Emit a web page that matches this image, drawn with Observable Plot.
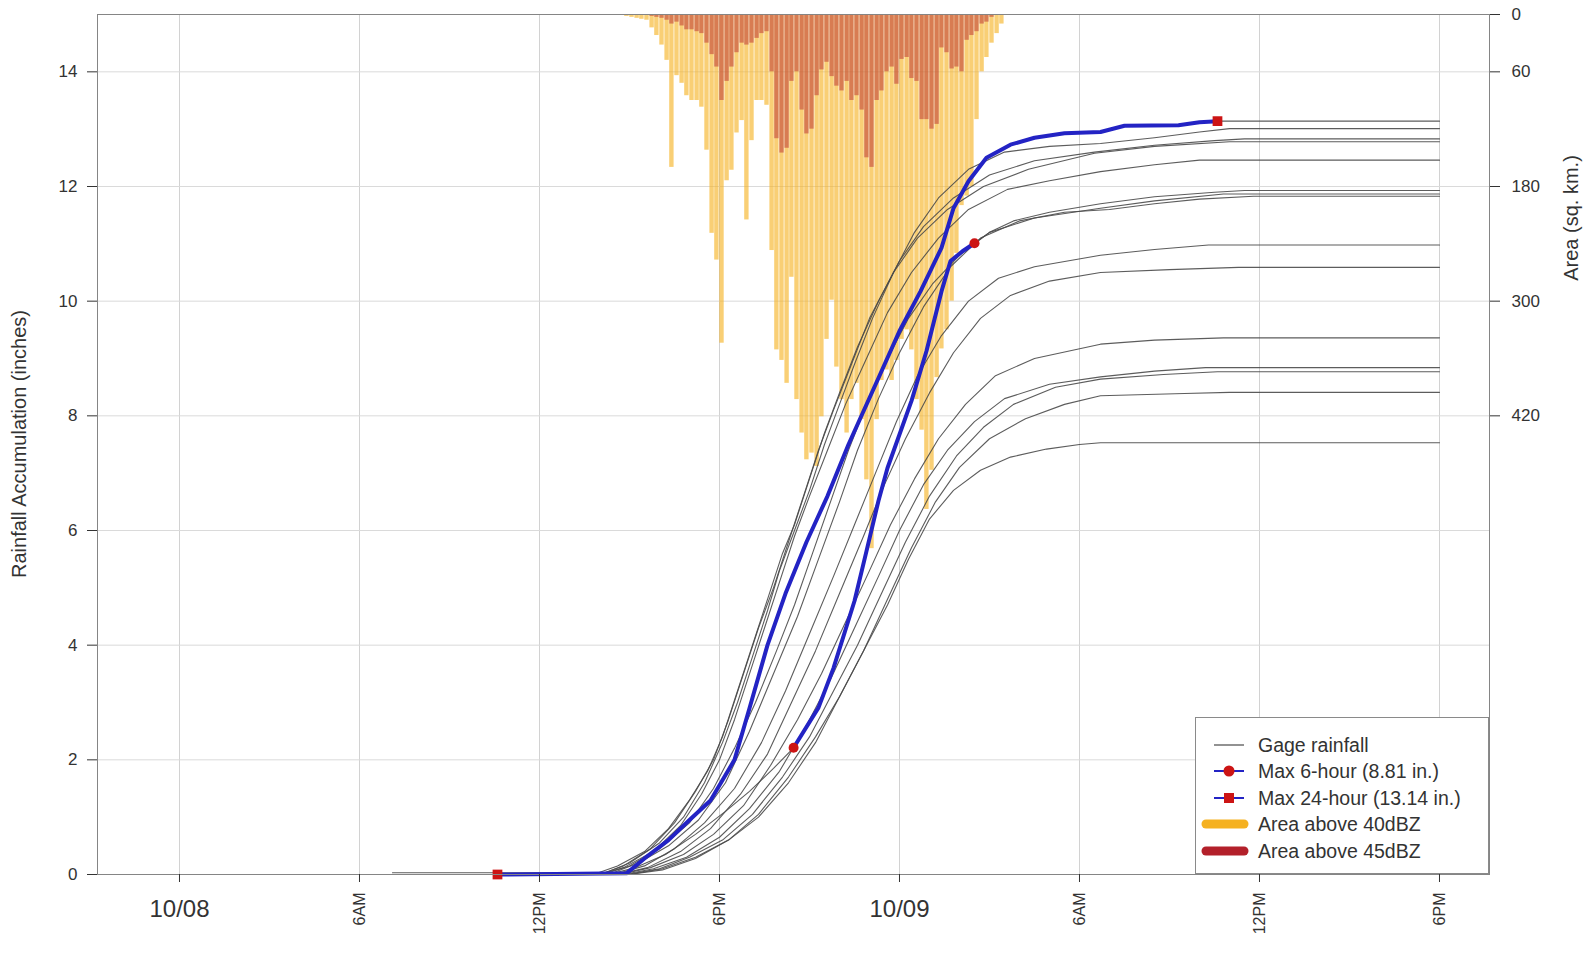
<!DOCTYPE html>
<html>
<head>
<meta charset="utf-8">
<script src="https://cdn.jsdelivr.net/npm/d3@7"></script>
<script src="https://cdn.jsdelivr.net/npm/@observablehq/plot@0.6"></script>
<style>
  html, body { margin: 0; padding: 0; background: #fff; }
  body { font-family: "Liberation Sans", Arial, sans-serif; color: #333; }
  #wrap { position: relative; width: 1594px; height: 957px; overflow: hidden; }
  .ttl { position: absolute; font-size: 20px; color: #333; white-space: nowrap; transform: translate(-50%, -50%) rotate(-90deg); }
  #legend { position: absolute; left: 1195px; top: 717px; width: 294px; height: 157px; box-sizing: border-box; border: 1px solid #8a8a8a; background: #fff; }
  .row { position: absolute; left: 0; height: 26px; width: 290px; }
  .row svg { position: absolute; left: 4px; top: 0; }
  .row span { position: absolute; left: 62px; top: 0; line-height: 26px; font-size: 19.5px; color: #333; white-space: nowrap; }
</style>
</head>
<body>
<div id="wrap">
  <div id="chart"></div>
  <div class="ttl" id="ytitle" style="left:19px; top:444px;">Rainfall Accumulation (inches)</div>
  <div class="ttl" id="atitle" style="left:1571px; top:218px;">Area (sq. km.)</div>
  <div id="legend"></div>
</div>
<script>
// ---------- axis ticks & labels ----------
const xTickHours  = [0, 6, 12, 18, 24, 30, 36, 42];
const xTickLabels = ["10/08", "6AM", "12PM", "6PM", "10/09", "6AM", "12PM", "6PM"];
const yTicks      = [0, 2, 4, 6, 8, 10, 12, 14];
const areaTicks   = [0, 60, 180, 300, 420];

// ---------- radar area bars (hours since 10/08 00:00, sq. km.) ----------
const barHours = 1 / 6;
const barStart = [14.83, 15.0, 15.17, 15.33,
  15.5, 15.67, 15.83, 16.0, 16.17, 16.33, 16.5, 16.67, 16.83, 17.0, 17.17, 17.33,
  17.5, 17.67, 17.83, 18.0, 18.17, 18.33, 18.5, 18.67, 18.83, 19.0, 19.17, 19.33,
  19.5, 19.67, 19.83, 20.0, 20.17, 20.33, 20.5, 20.67, 20.83, 21.0, 21.17, 21.33,
  21.5, 21.67, 21.83, 22.0, 22.17, 22.33, 22.5, 22.67, 22.83, 23.0, 23.17, 23.33,
  23.5, 23.67, 23.83, 24.0, 24.17, 24.33, 24.5, 24.67, 24.83, 25.0, 25.17, 25.33,
  25.5, 25.67, 25.83, 26.0, 26.17, 26.33, 26.5, 26.67, 26.83, 27.0, 27.17, 27.33];
const area40 = [2, 3, 4, 5,
  6, 14, 22, 32, 48, 160, 64, 72, 85, 90, 90, 97,
  142, 229, 257, 344, 174, 163, 124, 111, 215, 132, 90, 90,
  95, 247, 351, 362, 386, 275, 403, 438, 466, 459, 473, 421,
  340, 299, 369, 403, 438, 403, 386, 424, 487, 559, 424, 383,
  372, 383, 362, 340, 330, 351, 403, 435, 518, 477, 380, 350,
  330, 300, 250, 200, 190, 180, 110, 60, 45, 30, 20, 10];
const area45 = [0, 0, 0, 0,
  0, 2, 3, 4, 6, 10, 8, 12, 16, 16, 18, 20,
  30, 42, 55, 90, 70, 55, 40, 30, 32, 30, 25, 20,
  18, 60, 130, 145, 140, 70, 60, 100, 125, 120, 85, 58,
  50, 65, 75, 80, 70, 90, 85, 100, 150, 160, 90, 80,
  60, 55, 73, 47, 45, 67, 70, 110, 110, 120, 115, 35,
  40, 57, 55, 60, 27, 22, 18, 10, 8, 3, 0, 0];

// ---------- gage cumulative rainfall [hour, inches] ----------
const gage01 = [[7.1,0],[10.6,0],[14.9,0.02],[15.5,0.28],[16.3,0.6],[17.0,0.95],[17.7,1.29],[18.5,2.0],[19.0,2.9],[19.6,4.0],[20.2,4.9],[20.9,5.8],[21.6,6.6],[22.3,7.5],[23.3,8.66],[24.0,9.48],[24.7,10.17],[25.4,10.93],[25.8,11.62],[26.3,12.09],[26.9,12.5],[27.7,12.73],[28.5,12.85],[29.5,12.93],[30.7,12.95],[31.5,13.06],[33.3,13.07],[34.0,13.12],[34.6,13.14],[42,13.14]];
const gage02 = [[7.1,0.03],[14.2,0.03],[15.0,0.2],[16.0,0.55],[16.8,1.0],[17.5,1.6],[18.1,2.3],[18.6,3.0],[19.1,3.8],[19.6,4.6],[20.0,5.3],[20.5,6.0],[21.0,6.7],[21.5,7.5],[22.0,8.2],[22.5,8.9],[23.1,9.7],[23.8,10.5],[24.5,11.2],[25.3,11.8],[26.3,12.3],[27.5,12.6],[29.0,12.7],[30.7,12.75],[32.5,12.85],[34.0,12.95],[35.0,13.01],[42,13.01]];
const gage03 = [[7.1,0],[13.8,0],[14.6,0.15],[15.5,0.4],[16.3,0.8],[17.0,1.3],[17.6,1.8],[18.1,2.4],[18.6,3.2],[19.1,4.0],[19.6,4.8],[20.1,5.6],[20.5,6.1],[21.0,6.9],[21.5,7.7],[22.0,8.4],[22.6,9.2],[23.3,10.0],[24.0,10.7],[24.8,11.3],[25.8,11.8],[27.0,12.2],[28.5,12.45],[30.5,12.6],[32.5,12.72],[34.5,12.8],[35.5,12.83],[42,12.83]];
const gage04 = [[7.2,0],[14.0,0],[14.8,0.15],[15.7,0.45],[16.5,0.9],[17.2,1.45],[17.8,2.0],[18.3,2.7],[18.8,3.5],[19.3,4.3],[19.8,5.0],[20.3,5.8],[20.8,6.6],[21.3,7.4],[21.8,8.1],[22.4,8.9],[23.0,9.7],[23.8,10.5],[24.6,11.1],[25.6,11.6],[26.8,12.0],[28.3,12.3],[30.5,12.58],[32.5,12.7],[35.0,12.78],[42,12.78]];
const gage05 = [[7.3,0],[14.0,0],[14.8,0.12],[15.8,0.4],[16.7,0.85],[17.4,1.4],[18.0,2.0],[18.5,2.7],[19.0,3.5],[19.5,4.3],[20.0,5.1],[20.5,5.9],[21.0,6.6],[21.6,7.4],[22.2,8.2],[22.9,9.0],[23.6,9.8],[24.4,10.5],[25.3,11.1],[26.3,11.6],[27.6,11.95],[29.0,12.1],[30.7,12.26],[32.5,12.38],[34.0,12.46],[42,12.46]];
const gage06 = [[7.2,0],[14.3,0],[15.2,0.12],[16.2,0.35],[17.2,0.7],[18.2,1.1],[19.0,1.45],[19.8,1.85],[20.47,2.21],[21.3,2.91],[21.8,3.6],[22.5,4.77],[22.9,5.64],[23.3,6.52],[23.6,7.09],[24.4,8.26],[24.9,9.13],[25.4,10.17],[25.7,10.7],[26.1,10.87],[26.5,11.01],[27.0,11.2],[27.8,11.4],[29.0,11.55],[30.7,11.7],[32.5,11.82],[34.5,11.9],[35.5,11.93],[42,11.93]];
const gage07 = [[7.2,0],[14.1,0],[15.0,0.15],[16.0,0.45],[17.0,0.9],[17.8,1.5],[18.5,2.2],[19.2,3.0],[19.9,3.9],[20.5,4.7],[21.1,5.6],[21.7,6.5],[22.3,7.4],[22.9,8.2],[23.6,9.0],[24.3,9.7],[25.1,10.3],[26.0,10.8],[27.0,11.2],[28.5,11.45],[30.7,11.62],[32.5,11.75],[34.8,11.87],[42,11.87]];
const gage08 = [[7.4,0],[14.3,0],[15.3,0.2],[16.3,0.5],[17.3,0.95],[18.2,1.6],[19.0,2.5],[19.8,3.5],[20.6,4.5],[21.3,5.5],[22.0,6.5],[22.6,7.4],[23.3,8.3],[24.0,9.1],[24.8,9.9],[25.7,10.6],[26.7,11.1],[28.0,11.4],[29.5,11.55],[31.0,11.6],[32.5,11.7],[34.0,11.78],[35.8,11.83],[42,11.83]];
const gage09 = [[7.2,0],[14.5,0],[15.5,0.15],[16.5,0.45],[17.5,0.9],[18.5,1.5],[19.4,2.3],[20.2,3.2],[21.0,4.2],[21.8,5.2],[22.5,6.1],[23.2,7.0],[23.9,7.9],[24.6,8.7],[25.4,9.4],[26.3,10.0],[27.3,10.4],[28.5,10.6],[30.7,10.8],[32.5,10.9],[34.3,10.98],[42,10.98]];
const gage10 = [[7.3,0],[14.6,0],[15.6,0.12],[16.7,0.4],[17.7,0.8],[18.7,1.4],[19.6,2.1],[20.4,3.0],[21.2,3.9],[22.0,4.9],[22.8,5.9],[23.5,6.8],[24.2,7.6],[25.0,8.4],[25.8,9.1],[26.7,9.7],[27.7,10.1],[29.0,10.35],[30.7,10.5],[33.0,10.55],[35.3,10.59],[42,10.59]];
const gage11 = [[7.3,0],[14.7,0],[15.7,0.12],[16.8,0.35],[17.8,0.7],[18.8,1.2],[19.7,1.9],[20.6,2.7],[21.4,3.5],[22.2,4.4],[23.0,5.3],[23.7,6.1],[24.5,6.9],[25.3,7.6],[26.2,8.2],[27.2,8.7],[28.5,9.0],[30.7,9.25],[32.5,9.32],[34.8,9.36],[42,9.36]];
const gage12 = [[7.4,0],[14.8,0],[15.8,0.1],[16.9,0.3],[18.0,0.65],[19.0,1.15],[20.0,1.8],[20.9,2.6],[21.7,3.4],[22.5,4.3],[23.3,5.2],[24.0,6.0],[24.8,6.8],[25.6,7.4],[26.5,7.9],[27.5,8.3],[29.0,8.55],[30.7,8.68],[32.5,8.78],[34.2,8.84],[42,8.84]];
const gage13 = [[7.5,0],[14.9,0],[16.0,0.1],[17.0,0.3],[18.1,0.6],[19.1,1.05],[20.1,1.7],[21.0,2.4],[21.8,3.2],[22.6,4.0],[23.4,4.9],[24.2,5.8],[25.0,6.6],[25.9,7.3],[26.8,7.8],[27.8,8.2],[29.2,8.5],[30.7,8.64],[32.8,8.72],[34.6,8.77],[42,8.77]];
const gage14 = [[7.6,0],[15.0,0],[16.1,0.1],[17.2,0.3],[18.3,0.6],[19.3,1.0],[20.3,1.6],[21.2,2.3],[22.0,3.1],[22.8,3.9],[23.6,4.8],[24.4,5.7],[25.2,6.5],[26.0,7.1],[27.0,7.6],[28.2,7.95],[29.5,8.2],[30.7,8.35],[33.5,8.39],[35.0,8.41],[42,8.41]];
const gage15 = [[7.6,0],[15.0,0],[16.1,0.08],[17.2,0.28],[18.3,0.6],[19.3,1.05],[20.3,1.7],[21.2,2.4],[22.0,3.1],[22.8,3.9],[23.6,4.7],[24.3,5.5],[25.0,6.2],[25.8,6.7],[26.7,7.05],[27.7,7.28],[28.9,7.42],[30.0,7.5],[30.7,7.53],[42,7.53]];

// max-accumulation windows (hours)
const max24Window = [10.6, 34.6];   // gage01, 13.14 in.
const max6Window  = [20.47, 26.5];  // gage06, 8.81 in.

// ---------- colours ----------
const gageColor = "#4a4a4a";
const blue = "#2323C4";
const red = "#CC1414";
const orange40 = "#F5B120";
const red45 = "#B3202A";

// ---------- build ----------
const gages = [gage01, gage02, gage03, gage04, gage05, gage06, gage07, gage08,
               gage09, gage10, gage11, gage12, gage13, gage14, gage15];
const bars = barStart.map((t, i) => ({t0: t, t1: t + barHours, a40: area40[i], a45: area45[i]}));
const topIn = 15;                 // 0 sq. km. sits at the top of the inches axis
const areaPerInch = 60;
const toInch = a => topIn - a / areaPerInch;

const seg24 = gage01.filter(d => d[0] >= max24Window[0] && d[0] <= max24Window[1]);
const seg6  = gage06.filter(d => d[0] >= max6Window[0] && d[0] <= max6Window[1]);
const ends24 = [seg24[0], seg24[seg24.length - 1]];
const ends6  = [seg6[0], seg6[seg6.length - 1]];

const xLabel = new Map(xTickHours.map((h, i) => [h, xTickLabels[i]]));
const dateTicks = xTickHours.filter((h, i) => xTickLabels[i].includes("/"));
const hourTicks = xTickHours.filter((h, i) => !xTickLabels[i].includes("/"));
const areaPos = areaTicks.map(toInch);
const areaLabel = new Map(areaPos.map((p, i) => [p, String(areaTicks[i])]));

const marks = [
  Plot.gridX(xTickHours, {stroke: "#d2d2d2", strokeOpacity: 1}),
  Plot.gridY(yTicks, {stroke: "#dadada", strokeOpacity: 1}),
  Plot.rect(bars, {x1: "t0", x2: "t1", y1: topIn, y2: d => toInch(d.a40), fill: orange40, fillOpacity: 0.62, insetLeft: 0.3, insetRight: 0.3}),
  Plot.rect(bars, {x1: "t0", x2: "t1", y1: topIn, y2: d => toInch(d.a45), fill: red45, fillOpacity: 0.47, insetLeft: 0.3, insetRight: 0.3}),
  ...gages.map(g => Plot.line(g, {x: d => d[0], y: d => d[1], stroke: gageColor, strokeWidth: 1.1, strokeOpacity: 0.9})),
  Plot.line(seg24, {x: d => d[0], y: d => d[1], stroke: blue, strokeWidth: 4, strokeLinejoin: "round", strokeLinecap: "round"}),
  Plot.line(seg6, {x: d => d[0], y: d => d[1], stroke: blue, strokeWidth: 4, strokeLinejoin: "round", strokeLinecap: "round"}),
  Plot.dot(ends6, {x: d => d[0], y: d => d[1], r: 5, fill: red, symbol: "circle"}),
  Plot.dot(ends24, {x: d => d[0], y: d => d[1], r: 5.5, fill: red, symbol: "square"}),
  Plot.frame({stroke: "#858585"}),
  Plot.axisY(yTicks, {anchor: "left", tickSize: 10, tickPadding: 10, fontSize: 17, label: null, tickFormat: d => String(d), color: "#333"}),
  Plot.axisY(areaPos, {anchor: "right", tickSize: 10, tickPadding: 12, fontSize: 17, label: null, tickFormat: d => areaLabel.get(d), color: "#333"}),
  Plot.axisX(dateTicks, {anchor: "bottom", tickSize: 8, tickPadding: 17, fontSize: 24, label: null, tickFormat: d => xLabel.get(d), color: "#333"}),
  Plot.axisX(hourTicks, {anchor: "bottom", tickSize: 8, tickPadding: 10, fontSize: 16, tickRotate: -90, label: null, tickFormat: d => xLabel.get(d), color: "#333"})
];

const chart = Plot.plot({
  width: 1594,
  height: 957,
  marginLeft: 97,
  marginRight: 105,
  marginTop: 14,
  marginBottom: 83,
  x: {domain: [-2.733, 43.667], axis: null},
  y: {domain: [0, 15], axis: null},
  style: {fontFamily: '"Liberation Sans", Arial, sans-serif', fontSize: "17px", color: "#333", background: "#fff", overflow: "visible"},
  marks
});
document.getElementById("chart").appendChild(chart);

// ---------- legend ----------
const legendItems = [
  {label: "Gage rainfall", kind: "gage"},
  {label: "Max 6-hour (8.81 in.)", kind: "circle"},
  {label: "Max 24-hour (13.14 in.)", kind: "square"},
  {label: "Area above 40dBZ", kind: "area40"},
  {label: "Area above 45dBZ", kind: "area45"}
];
const legend = document.getElementById("legend");
legendItems.forEach((it, i) => {
  const row = document.createElement("div");
  row.className = "row";
  row.style.top = (14 + i * 26.4) + "px";
  let sym = "";
  if (it.kind === "gage") sym = `<line x1="14" y1="13" x2="44" y2="13" stroke="${gageColor}" stroke-width="1.2"/>`;
  if (it.kind === "circle") sym = `<line x1="14" y1="13" x2="44" y2="13" stroke="${blue}" stroke-width="2"/><circle cx="29" cy="13" r="5.5" fill="${red}"/>`;
  if (it.kind === "square") sym = `<line x1="14" y1="13" x2="44" y2="13" stroke="${blue}" stroke-width="2"/><rect x="24" y="8" width="10" height="10" fill="${red}"/>`;
  if (it.kind === "area40") sym = `<line x1="6" y1="13" x2="44" y2="13" stroke="${orange40}" stroke-width="9" stroke-linecap="round"/>`;
  if (it.kind === "area45") sym = `<line x1="6" y1="13" x2="44" y2="13" stroke="${red45}" stroke-width="9" stroke-linecap="round"/>`;
  row.innerHTML = `<svg width="52" height="26">${sym}</svg><span>${it.label}</span>`;
  legend.appendChild(row);
});
</script>
</body>
</html>
